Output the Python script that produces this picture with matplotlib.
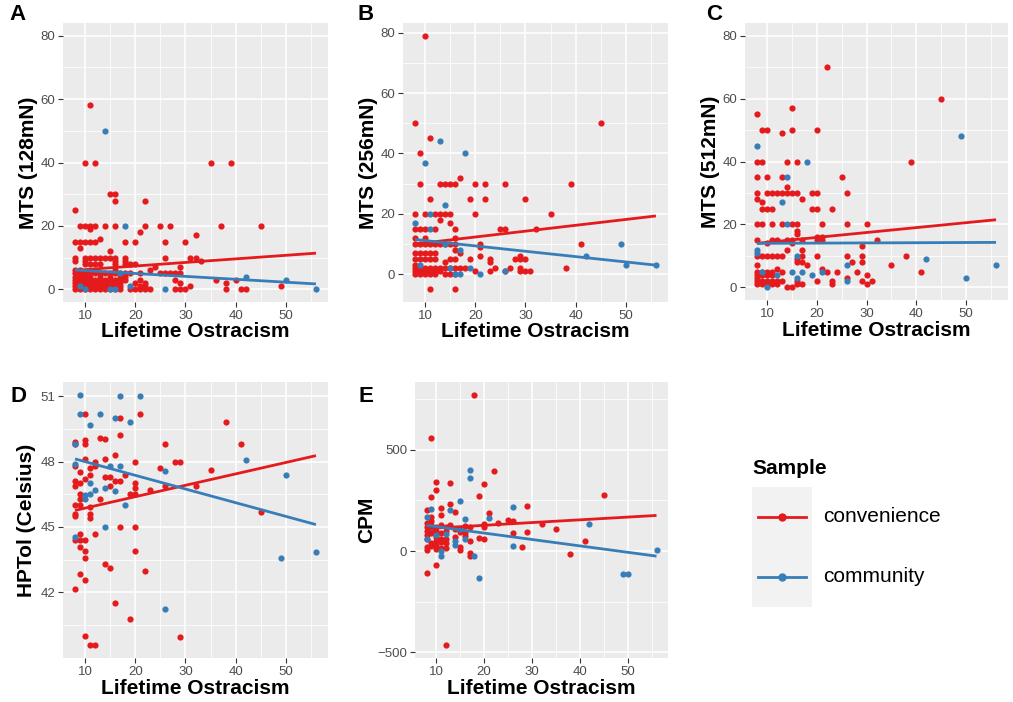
import matplotlib
matplotlib.use("Agg")
import matplotlib.pyplot as plt
from matplotlib.ticker import FixedLocator
from matplotlib.patches import Rectangle
from matplotlib.lines import Line2D

plt.rcParams['font.family'] = ['Liberation Sans', 'DejaVu Sans']

RED = '#E41A1C'
BLUE = '#377EB8'

# ---- data ----
groups = ['convenience', 'community']
fit_x = [8, 56]

# panel A : MTS (128mN), x -> list of y
a_conv = {8: [0, 1, 2, 3, 4, 5, 6, 9, 10, 15, 25], 9: [0, 1, 2, 3, 4, 5, 6, 13, 15, 20],
          10: [0, 1, 2, 3, 4, 5, 8, 9, 10, 15, 20, 40], 11: [0, 1, 2, 3, 4, 5, 8, 10, 15, 19, 20, 58],
          12: [0, 1, 2, 3, 5, 8, 10, 15, 20, 40], 13: [0, 1, 2, 3, 4, 5, 8, 10, 16],
          14: [0, 1, 2, 3, 5, 10, 20], 15: [0, 1, 2, 3, 4, 5, 10, 12, 30],
          16: [0, 1, 2, 3, 5, 6, 8, 9, 10, 20, 28, 30], 17: [0, 1, 2, 3, 4, 5],
          18: [3, 4, 5, 8, 9, 10, 15], 19: [0, 5, 8], 20: [0, 2, 8, 15], 21: [0, 1, 3, 5, 18],
          22: [0, 1, 2, 20, 28], 23: [0, 6], 24: [7], 25: [5, 20], 26: [5, 10, 15], 27: [5, 20],
          28: [0, 3, 5], 29: [0, 2, 5, 7], 30: [0, 15], 31: [1, 10], 32: [10, 17], 33: [9],
          35: [40], 36: [3], 37: [20], 38: [0, 2], 39: [40], 40: [3], 41: [0], 42: [0],
          45: [20], 49: [1]}
a_comm_x = [9, 10, 14, 15, 16, 17, 18, 19, 26, 42, 50, 56]
a_comm_y = [1, 0, 50, 0, 0, 5, 20, 1, 0, 4, 3, 0]
a_fit_conv = [6.0, 11.4]
a_fit_comm = [6.1, 1.7]

# panel B : MTS (256mN)
b_conv = {8: [0, 1, 2, 3, 5, 7, 10, 12, 15, 20, 50], 9: [0, 1, 2, 5, 7, 10, 15, 30, 40],
          10: [0, 1, 2, 5, 7, 10, 12, 15, 20, 79], 11: [-5, 0, 1, 2, 5, 7, 10, 25, 45],
          12: [0, 1, 2, 5, 7, 10, 15, 20], 13: [1, 2, 10, 18, 20, 30], 14: [0, 2, 4, 10, 20, 30],
          15: [0, 2, 5, 10, 17, 20, 30], 16: [-5, 0, 2, 5, 8, 10, 12, 15, 30], 17: [2, 7, 32],
          18: [2], 19: [5, 25], 20: [1, 20, 30], 21: [6, 9, 10], 22: [25, 30], 23: [1, 4, 5],
          24: [2], 25: [15], 26: [1, 15, 30], 27: [2], 28: [5], 29: [1, 2, 5, 6], 30: [1, 5, 25],
          31: [1], 32: [15], 35: [20], 38: [2], 39: [30], 41: [10], 45: [50]}
b_comm_x = [8, 9, 10, 11, 11, 13, 14, 14, 15, 16, 17, 17, 18, 19, 21, 26, 42, 49, 50, 56]
b_comm_y = [17, 3, 37, 20, 15, 44, 23, 10, 2, 0, 0, 8, 40, 2, 0, 1, 6, 10, 3, 3]
b_fit_conv = [10.0, 19.3]
b_fit_comm = [11.5, 3.0]

# panel C : MTS (512mN)
c_conv = {8: [1, 2, 3, 4, 5, 7, 10, 15, 20, 28, 30, 35, 40, 55], 9: [1, 2, 4, 5, 10, 20, 25, 27, 40, 50],
          10: [1, 2, 4, 5, 10, 14, 25, 30, 35, 50], 11: [1, 2, 4, 5, 10, 15, 20, 25, 30],
          12: [1, 2, 6, 10, 15, 30], 13: [2, 5, 10, 20, 30, 35, 49], 14: [0, 12, 15, 30, 32, 40],
          15: [0, 14, 15, 20, 30, 50, 57], 16: [1, 2, 8, 9, 17, 18, 20, 30, 40],
          17: [1, 8, 10, 12, 15, 28], 18: [7], 19: [25, 30], 20: [2, 10, 15, 16, 25, 30, 50],
          21: [6, 15, 16, 20], 22: [5, 70], 23: [1, 2, 25], 24: [5], 25: [35], 26: [3, 10, 20, 30],
          27: [8], 28: [5], 29: [2, 8, 10, 13], 30: [1, 4, 20], 31: [2], 32: [15], 35: [7],
          38: [10], 39: [40], 41: [5], 45: [60]}
c_comm_x = [8, 8, 8, 9, 10, 12, 13, 14, 14, 15, 16, 16, 17, 18, 19, 21, 26, 26, 42, 49, 50, 56]
c_comm_y = [45, 12, 11, 5, 0, 4, 27, 35, 20, 5, 10, 3, 5, 40, 4, 5, 7, 2, 9, 48, 3, 7]
c_fit_conv = [14.0, 21.5]
c_fit_comm = [14.0, 14.3]

# panel D : HPTol (Celsius)
d_conv_x = [10, 21, 17, 13, 14, 17, 8, 8, 10, 10, 26, 16, 38, 41, 8, 10, 12, 14, 20, 28, 29, 25, 35,
            9, 11, 12, 18, 11, 14, 15, 10, 8, 8, 9, 16, 17, 20, 20, 15, 23, 26, 32, 19, 20, 9, 13, 9,
            8, 9, 11, 8, 8, 11, 11, 45, 17, 20, 12, 9, 8, 9, 10, 9, 10, 10, 20, 14, 15, 22, 9, 10, 8,
            16, 19, 10, 29, 11, 12]
d_conv_y = [50.2, 50.2, 50.0, 49.1, 49.05, 49.2, 48.9, 48.8, 49.0, 48.8, 48.8, 48.3, 49.8, 48.8, 47.8,
            48.1, 48.0, 48.1, 48.0, 48.0, 48.0, 47.7, 47.6, 47.5, 47.7, 47.8, 47.4, 47.4, 47.3, 47.3,
            47.2, 47.1, 46.9, 47.0, 47.1, 47.1, 47.0, 46.8, 46.9, 46.7, 46.9, 46.9, 46.5, 46.5, 46.5,
            46.3, 46.3, 46.0, 46.0, 45.9, 45.6, 45.5, 45.6, 45.4, 45.7, 45.0, 45.0, 44.7, 44.7, 44.4,
            44.4, 44.4, 44.1, 43.9, 43.6, 43.9, 43.3, 43.1, 43.0, 42.85, 42.55, 42.15, 41.5, 40.8,
            40.0, 39.95, 39.57, 39.6]
d_comm_x = [9, 17, 21, 9, 13, 16, 19, 11, 8, 8, 42, 17, 15, 26, 50, 11, 10, 10, 11, 12, 14, 16, 18,
            14, 8, 49, 56, 26]
d_comm_y = [51.07, 51.0, 51.0, 50.2, 50.2, 50.0, 49.8, 49.66, 48.8, 47.9, 48.07, 47.8, 47.8, 47.55,
            47.4, 47.0, 46.45, 46.3, 46.5, 46.7, 46.8, 46.66, 46.0, 45.0, 44.55, 43.58, 43.87, 41.24]
d_fit_conv = [45.76, 48.27]
d_fit_comm = [48.12, 45.11]

# panel E : CPM
e_conv_x = [18, 9, 22, 10, 13, 20, 10, 45, 9, 19, 13, 29, 11, 14, 8, 21, 11, 9, 23, 25, 26, 32, 13,
            20, 20, 16, 35, 29, 26, 15, 16, 19, 20, 41, 17, 10, 11, 12, 10, 9, 15, 15, 12, 11, 28, 8,
            8, 17, 17, 38, 10, 8, 12, 8, 8, 8, 8, 8, 9, 9, 9, 9, 10, 10, 10, 11, 11, 11, 12, 12, 14,
            14, 16, 17, 9, 10, 12]
e_conv_y = [773, 557, 394, 341, 338, 330, 304, 276, 266, 271, 234, 221, 211, 194, 201, 188, 180, 170,
            140, 152, 147, 132, 130, 135, 120, 125, 110, 95, 88, 95, 75, 64, 58, 52, 50, 50, 45, 40,
            30, 25, 20, 5, 15, 15, 18, 5, 20, -10, -25, -13, -70, -110, -466, 60, 80, 100, 120, 140,
            90, 110, 130, 150, 70, 100, 120, 60, 90, 130, 100, 120, 70, 110, 90, 120, 40, 10, 60]
e_comm_x = [17, 17, 15, 26, 9, 13, 21, 16, 8, 42, 14, 14, 16, 12, 10, 8, 11, 11, 18, 19, 26, 49, 50,
            56, 9, 15]
e_comm_y = [400, 359, 245, 216, 207, 201, 165, 158, 170, 132, 49, 29, 60, 85, 80, 60, 0, -25, -24,
            -131, 23, -114, -114, 5, 120, 110]
e_fit_conv = [111, 176]
e_fit_comm = [127, -25]

W, H = 1013, 702
fig = plt.figure(figsize=(W / 100, H / 100), dpi=100)


def px_rect(l, t, r, b):
    return [l / W, 1 - b / H, (r - l) / W, (b - t) / H]


def flat(grp):
    xs, ys = [], []
    for x, vals in grp.items():
        xs += [x] * len(vals)
        ys += vals
    return xs, ys


def panel(rect, letter, letter_xy, ylabel, ylab_x, conv, comm, fit_c, fit_m,
          yrange, yticks, yminor):
    ax = fig.add_axes(px_rect(*rect))
    ax.set_facecolor('#EBEBEB')
    for s in ax.spines.values():
        s.set_visible(False)
    ax.scatter(conv[0], conv[1], s=20, color=RED, lw=0, zorder=3)
    ax.scatter(comm[0], comm[1], s=20, color=BLUE, lw=0, zorder=3)
    ax.plot(fit_x, fit_c, color=RED, lw=2, zorder=4, solid_capstyle='butt')
    ax.plot(fit_x, fit_m, color=BLUE, lw=2, zorder=4, solid_capstyle='butt')
    ax.set_xlim(8 - 2.4, 56 + 2.4)
    lo, hi = yrange
    pad = (hi - lo) * 0.05
    ax.set_ylim(lo - pad, hi + pad)
    ax.xaxis.set_major_locator(FixedLocator([10, 20, 30, 40, 50]))
    ax.xaxis.set_minor_locator(FixedLocator([15, 25, 35, 45, 55]))
    ax.yaxis.set_major_locator(FixedLocator(yticks))
    ax.yaxis.set_minor_locator(FixedLocator(yminor))
    ax.grid(which='major', color='white', lw=1.1)
    ax.grid(which='minor', color='white', lw=0.55)
    ax.set_axisbelow(True)
    ax.tick_params(which='major', length=3.5, width=0.8, color='#333333',
                   labelsize=9.5, labelcolor='#4D4D4D', pad=2)
    ax.tick_params(which='minor', length=0)
    l, t, r, b = rect
    fig.text(ylab_x / W, 1 - (t + b) / 2 / H, ylabel, rotation=90, ha='center', va='center',
             fontsize=15, fontweight='bold')
    fig.text((l + r) / 2 / W, 1 - (b + 30) / H, 'Lifetime Ostracism', ha='center', va='center',
             fontsize=15, fontweight='bold')
    fig.text(letter_xy[0] / W, 1 - letter_xy[1] / H, letter, ha='center', va='center',
             fontsize=16, fontweight='bold')
    return ax


mts_ticks = [0, 20, 40, 60, 80]
mts_minor = [10, 30, 50, 70]
panel((63, 23, 328, 302), 'A', (18, 15), 'MTS (128mN)', 28, flat(a_conv), (a_comm_x, a_comm_y),
      a_fit_conv, a_fit_comm, (0, 80), mts_ticks, mts_minor)
panel((403, 23, 668, 302), 'B', (366, 15), 'MTS (256mN)', 368, flat(b_conv), (b_comm_x, b_comm_y),
      b_fit_conv, b_fit_comm, (-5, 79), mts_ticks, mts_minor)
panel((745, 23, 1008, 300), 'C', (714, 15), 'MTS (512mN)', 710, flat(c_conv), (c_comm_x, c_comm_y),
      c_fit_conv, c_fit_comm, (0, 80), mts_ticks, mts_minor)
panel((63, 382, 328, 658), 'D', (19, 396), 'HPTol (Celsius)', 27, (d_conv_x, d_conv_y),
      (d_comm_x, d_comm_y), d_fit_conv, d_fit_comm, (39.57, 51.07), [42, 45, 48, 51],
      [40.5, 43.5, 46.5, 49.5])
panel((415, 382, 668, 658), 'E', (366, 397), 'CPM', 367, (e_conv_x, e_conv_y),
      (e_comm_x, e_comm_y), e_fit_conv, e_fit_comm, (-466, 773), [-500, 0, 500],
      [-250, 250, 750])

# legend drawn by hand in figure pixels
ov = fig.add_axes([0, 0, 1, 1])
ov.set_xlim(0, W)
ov.set_ylim(H, 0)
ov.axis('off')
ov.patch.set_alpha(0)
ov.text(752, 468, 'Sample', ha='left', va='center', fontsize=15, fontweight='bold')
ov.add_patch(Rectangle((752, 487), 60, 120, color='#F2F2F2', lw=0))
for i, (g, col) in enumerate(zip(groups, [RED, BLUE])):
    yy = 517 + 60 * i
    ov.add_line(Line2D([758, 806], [yy, yy], color=col, lw=2))
    ov.plot([782], [yy], 'o', color=col, ms=5)
    ov.text(823, yy, g, ha='left', va='center', fontsize=15)

fig.savefig('out.png', dpi=100)
